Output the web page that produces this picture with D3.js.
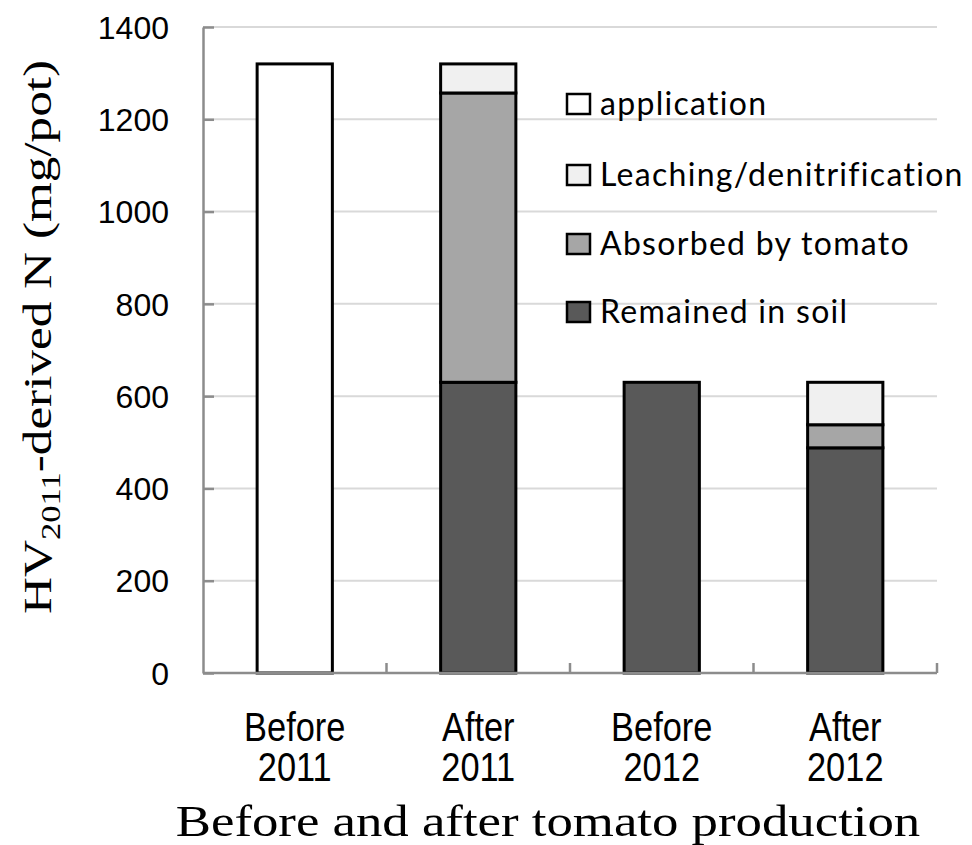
<!DOCTYPE html>
<html>
<head>
<meta charset="utf-8">
<script src="https://cdn.jsdelivr.net/npm/d3@7"></script>
<style>
  html, body { margin: 0; padding: 0; background: #fff; }
  svg { display: block; }
</style>
</head>
<body>
<svg id="chart" width="972" height="845"></svg>
<script>
// ---- data ----
const categories = ["Before 2011", "After 2011", "Before 2012", "After 2012"];
const categoryLines = [["Before", "2011"], ["After", "2011"], ["Before", "2012"], ["After", "2012"]];
const seriesNames = ["Remained in soil", "Absorbed by tomato", "Leaching/denitrification", "application"];
const remainedInSoil = [0, 630, 630, 488];
const absorbedByTomato = [0, 627, 0, 50];
const leaching = [0, 63, 0, 92];
const application = [1320, 0, 0, 0];
const yTicks = [0, 200, 400, 600, 800, 1000, 1200, 1400];
const legendOrder = ["application", "Leaching/denitrification", "Absorbed by tomato", "Remained in soil"];

const colors = {
  "application": "#ffffff",
  "Leaching/denitrification": "#f0f0f0",
  "Absorbed by tomato": "#a6a6a6",
  "Remained in soil": "#595959"
};

const seriesValues = [remainedInSoil, absorbedByTomato, leaching, application];
const table = categories.map((c, i) => {
  const row = { cat: c };
  seriesNames.forEach((s, k) => row[s] = seriesValues[k][i]);
  return row;
});
const stacked = d3.stack().keys(seriesNames)(table);

// ---- layout ----
const svg = d3.select("#chart");
const plotLeft = 203, plotRight = 937, plotTop = 27, plotBottom = 673;

const x = d3.scaleBand().domain(categories).range([plotLeft, plotRight]).paddingInner(0.59).paddingOuter(0.295);
const y = d3.scaleLinear().domain([0, 1400]).range([plotBottom, plotTop]);

// gridlines
svg.append("g").selectAll("line").data(yTicks.filter(t => t > 0)).join("line")
  .attr("x1", plotLeft).attr("x2", plotRight)
  .attr("y1", d => y(d)).attr("y2", d => y(d))
  .attr("stroke", "#d9d9d9").attr("stroke-width", 2);

// bars
svg.append("g").selectAll("g").data(stacked).join("g")
  .attr("fill", d => colors[d.key])
  .selectAll("rect").data(d => d.filter(s => s[1] - s[0] > 0)).join("rect")
  .attr("x", d => x(d.data.cat))
  .attr("width", x.bandwidth())
  .attr("y", d => y(d[1]))
  .attr("height", d => y(d[0]) - y(d[1]))
  .attr("stroke", "#000").attr("stroke-width", 3);

// y axis
const yAxis = d3.axisLeft(y).tickValues(yTicks).tickFormat(d3.format("d"))
  .tickSize(-11).tickPadding(34).tickSizeOuter(0);
const gy = svg.append("g").attr("transform", `translate(${plotLeft},0)`).call(yAxis);
gy.select(".domain").attr("stroke", "#8c8c8c").attr("stroke-width", 2.5);
gy.selectAll(".tick line").attr("stroke", "#8c8c8c").attr("stroke-width", 2.5);
gy.selectAll(".tick text")
  .attr("font-family", "'Liberation Sans', Arial, sans-serif")
  .attr("font-size", 32).attr("fill", "#000").attr("dy", "0.35em");

// x axis: ticks at category boundaries
const boundaries = d3.range(categories.length + 1).map(i => plotLeft + i * x.step());
const gx = svg.append("g");
gx.append("line").attr("x1", plotLeft).attr("x2", plotRight).attr("y1", plotBottom).attr("y2", plotBottom)
  .attr("stroke", "#8c8c8c").attr("stroke-width", 2.5);
gx.selectAll("line.tk").data(boundaries.slice(1)).join("line").attr("class", "tk")
  .attr("x1", d => d).attr("x2", d => d).attr("y1", plotBottom).attr("y2", plotBottom - 10)
  .attr("stroke", "#8c8c8c").attr("stroke-width", 2.5);

const xl = gx.selectAll("text.cat").data(categories).join("text").attr("class", "cat")
  .attr("text-anchor", "middle")
  .attr("transform", d => `translate(${x(d) + x.bandwidth() / 2},0) scale(0.86,1)`)
  .attr("font-family", "'Liberation Sans', Arial, sans-serif")
  .attr("font-size", 40).attr("fill", "#000");
xl.each(function(d, i) {
  const t = d3.select(this);
  categoryLines[i].forEach((ln, j) => {
    t.append("tspan").attr("x", 0).attr("y", 741 + j * 40).text(ln);
  });
});

// axis titles
svg.append("text")
  .attr("transform", "translate(548,836) scale(1.2,1)")
  .attr("text-anchor", "middle")
  .attr("font-family", "'Liberation Serif', serif")
  .attr("font-size", 44).attr("fill", "#000")
  .text("Before and after tomato production");

const yt = svg.append("text")
  .attr("transform", "translate(51,337) rotate(-90) scale(1.28,1)")
  .attr("text-anchor", "middle")
  .attr("font-family", "'Liberation Serif', serif")
  .attr("font-size", 40).attr("fill", "#000");
yt.append("tspan").text("HV");
yt.append("tspan").attr("font-size", 27).attr("dy", 9).text("2011");
yt.append("tspan").attr("dy", -9).text("-derived N (mg/pot)");

// legend
const legendY = [104, 175, 244, 312];
const lg = svg.append("g").selectAll("g").data(legendOrder).join("g")
  .attr("transform", (d, i) => `translate(567,${legendY[i]})`);
lg.append("rect").attr("x", 0).attr("y", -10).attr("width", 23).attr("height", 20)
  .attr("fill", d => colors[d]).attr("stroke", "#000").attr("stroke-width", 2.5);
lg.append("text").attr("x", 33).attr("y", 0).attr("dy", "0.35em")
  .attr("font-family", "Lato, 'Open Sans', sans-serif")
  .attr("font-size", 32).attr("letter-spacing", 1.3).attr("fill", "#000")
  .text(d => d);
</script>
</body>
</html>
